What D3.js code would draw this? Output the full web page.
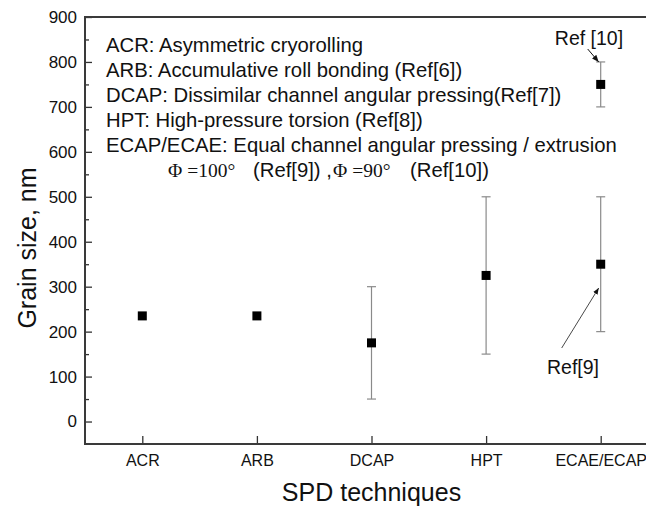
<!DOCTYPE html>
<html>
<head>
<meta charset="utf-8">
<script src="https://cdn.jsdelivr.net/npm/d3@7"></script>
<style>
  body { margin: 0; background: #fff; }
  text { font-family: Arial, "Liberation Sans", sans-serif; fill: #111; }
</style>
</head>
<body>
<div id="main"></div>
<script>
// categories on the x axis
var categories = ["ACR", "ARB", "DCAP", "HPT", "ECAE/ECAP"];

// one entry per plotted point
var pointCategory = ["ACR", "ARB", "DCAP", "HPT", "ECAE/ECAP", "ECAE/ECAP"];
var grainSize = [235, 235, 175, 325, 350, 750];
var errLow = [null, null, 50, 150, 200, 700];
var errHigh = [null, null, 300, 500, 500, 800];

// y tick values
var majorTicks = [0, 100, 200, 300, 400, 500, 600, 700, 800, 900];
var minorTicks = [50, 150, 250, 350, 450, 550, 650, 750, 850];

// legend text lines
var legendLines = [
  "ACR: Asymmetric cryorolling",
  "ARB: Accumulative roll bonding (Ref[6])",
  "DCAP: Dissimilar channel angular pressing(Ref[7])",
  "HPT: High-pressure torsion (Ref[8])",
  "ECAP/ECAE: Equal channel angular pressing / extrusion"
];

var margin = {top: 17, left: 85},
    width = 573,
    height = 427;

var svg = d3.select("#main")
  .append("svg")
  .attr("width", 646)
  .attr("height", 506)
  .style("display", "block");

var g = svg.append("g")
  .attr("transform", "translate(" + margin.left + "," + margin.top + ")");

var x = d3.scalePoint()
  .domain(categories)
  .range([0, width])
  .padding(0.5);

var y = d3.scaleLinear()
  .domain([-50, 900])
  .range([height, 0]);

// left axis, ticks pointing inward
var yAxis = g.append("g")
  .call(d3.axisLeft(y).tickValues(majorTicks).tickSize(-7).tickPadding(8));
yAxis.select(".domain").remove();
yAxis.selectAll("text").style("font-size", "17px");
yAxis.selectAll("line").attr("stroke", "#333").attr("stroke-width", 1.3);

var yMinor = g.append("g")
  .call(d3.axisLeft(y).tickValues(minorTicks).tickSize(-4).tickFormat(""));
yMinor.select(".domain").remove();
yMinor.selectAll("line").attr("stroke", "#333").attr("stroke-width", 1.3);

// bottom axis
var xAxis = g.append("g")
  .attr("transform", "translate(0," + height + ")")
  .call(d3.axisBottom(x).tickSize(-8).tickPadding(11));
xAxis.select(".domain").remove();
xAxis.selectAll("text").style("font-size", "16px");
xAxis.selectAll("line").attr("stroke", "#333").attr("stroke-width", 1.3);

// frame
g.append("rect")
  .attr("x", 0).attr("y", 0)
  .attr("width", width).attr("height", height)
  .attr("fill", "none")
  .attr("stroke", "#3a3a3a")
  .attr("stroke-width", 2);

// error bars
var idx = d3.range(grainSize.length).filter(function (i) { return errLow[i] != null; });
var bars = g.selectAll(".err")
  .data(idx)
  .enter().append("g")
  .attr("class", "err")
  .attr("stroke", "#8a8a8a")
  .attr("stroke-width", 1.2);
bars.append("line")
  .attr("x1", function (i) { return x(pointCategory[i]); })
  .attr("x2", function (i) { return x(pointCategory[i]); })
  .attr("y1", function (i) { return y(errLow[i]); })
  .attr("y2", function (i) { return y(errHigh[i]); });
[errLow, errHigh].forEach(function (arr) {
  bars.append("line")
    .attr("x1", function (i) { return x(pointCategory[i]) - 4.5; })
    .attr("x2", function (i) { return x(pointCategory[i]) + 4.5; })
    .attr("y1", function (i) { return y(arr[i]); })
    .attr("y2", function (i) { return y(arr[i]); });
});

// square markers
g.selectAll(".pt")
  .data(grainSize)
  .enter().append("rect")
  .attr("class", "pt")
  .attr("x", function (d, i) { return x(pointCategory[i]) - 4.5; })
  .attr("y", function (d) { return y(d) - 4.5; })
  .attr("width", 9)
  .attr("height", 9)
  .attr("fill", "#000");

// axis titles
svg.append("text")
  .attr("transform", "translate(36,248) rotate(-90)")
  .attr("text-anchor", "middle")
  .style("font-size", "25px")
  .text("Grain size, nm");

svg.append("text")
  .attr("x", margin.left + x("DCAP"))
  .attr("y", 501)
  .attr("text-anchor", "middle")
  .style("font-size", "25px")
  .text("SPD techniques");

// legend block
svg.selectAll(".leg")
  .data(legendLines)
  .enter().append("text")
  .attr("class", "leg")
  .attr("x", 106)
  .attr("y", function (d, i) { return 52 + i * 25; })
  .style("font-size", "20.3px")
  .text(function (d) { return d; });

var phi = svg.append("text")
  .attr("y", 177)
  .style("font-size", "20.3px");
phi.append("tspan").attr("x", 168)
  .style("font-family", "'Liberation Serif', 'Times New Roman', serif")
  .style("font-size", "19.5px")
  .text("\u03A6 =100\u00B0");
phi.append("tspan").attr("x", 253).text("(Ref[9]) ,");
phi.append("tspan").attr("x", 333)
  .style("font-family", "'Liberation Serif', 'Times New Roman', serif")
  .style("font-size", "19.5px")
  .text("\u03A6 =90\u00B0");
phi.append("tspan").attr("x", 410).text("(Ref[10])");

// arrow annotations
svg.append("defs").append("marker")
  .attr("id", "head")
  .attr("viewBox", "0 0 10 10")
  .attr("refX", 10).attr("refY", 5)
  .attr("markerWidth", 7).attr("markerHeight", 7)
  .attr("orient", "auto")
  .append("path")
  .attr("d", "M0,1 L10,5 L0,9 Z")
  .attr("fill", "#111");

var ex = margin.left + x("ECAE/ECAP");

svg.append("text")
  .attr("x", 589).attr("y", 45)
  .attr("text-anchor", "middle")
  .style("font-size", "19.5px")
  .text("Ref [10]");
svg.append("line")
  .attr("x1", ex - 13).attr("y1", 49)
  .attr("x2", ex - 2).attr("y2", margin.top + y(800))
  .attr("stroke", "#111").attr("stroke-width", 1)
  .attr("marker-end", "url(#head)");

svg.append("text")
  .attr("x", 573).attr("y", 374)
  .attr("text-anchor", "middle")
  .style("font-size", "19.5px")
  .text("Ref[9]");
svg.append("line")
  .attr("x1", ex - 39).attr("y1", 348)
  .attr("x2", ex - 2).attr("y2", 288)
  .attr("stroke", "#333").attr("stroke-width", 0.9)
  .attr("marker-end", "url(#head)");
</script>
</body>
</html>
